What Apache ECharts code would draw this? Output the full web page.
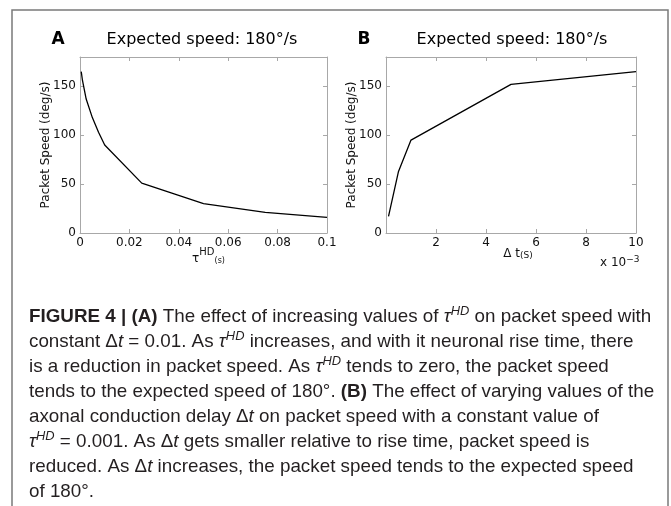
<!DOCTYPE html>
<html>
<head>
<meta charset="utf-8">
<script src="https://cdn.jsdelivr.net/npm/echarts@6/dist/echarts.min.js"></script>
<style>
  html, body { margin: 0; padding: 0; background: #fff; }
  #main { width: 671px; height: 506px; }
</style>
</head>
<body>
<div id="main"></div>
<script>
// panel A: tau^HD (s) against packet speed (deg/s)
let tauHD  = [0.0005, 0.001, 0.0025, 0.005, 0.0075, 0.01, 0.025, 0.05, 0.075, 0.1];
let speedA = [165, 156, 137, 118, 103, 90, 51, 30, 21, 16];
// panel B: delta t (in units of 10^-3 s) against packet speed
let deltaT = [0.1, 0.5, 1, 5, 10];
let speedB = [17, 63, 95, 152, 165];

let titleText = 'Expected speed: 180°/s';
let captionLines = [
  '{b|FIGURE 4 | (A)} The effect of increasing values of {i|τ}{sup|HD} on packet speed with',
  'constant Δ{i|t} = 0.01. As {i|τ}{sup|HD} increases, and with it neuronal rise time, there',
  'is a reduction in packet speed. As {i|τ}{sup|HD} tends to zero, the packet speed',
  'tends to the expected speed of 180°. {b|(B)} The effect of varying values of the',
  'axonal conduction delay Δ{i|t} on packet speed with a constant value of',
  '{i|τ}{sup|HD} = 0.001. As Δ{i|t} gets smaller relative to rise time, packet speed is',
  'reduced. As Δ{i|t} increases, the packet speed tends to the expected speed',
  'of 180°.'
];

let chart = echarts.init(document.getElementById('main'));
let F = 'DejaVu Sans';
let CF = 'Liberation Sans';
let spine = '#a8a8a8';
let ink = '#231f20';

function pairs(xs, ys){
  return xs.map(function(x, i){ return [x, ys[i]]; });
}

function axis(extra){
  return Object.assign({
    type: 'value',
    axisLine: { show: true, onZero: false, lineStyle: { color: spine, width: 1 } },
    axisTick: { show: true, inside: true, length: 4, lineStyle: { color: spine } },
    splitLine: { show: false },
    axisLabel: { show: false }
  }, extra);
}

function tickLabel(fmt){
  return { show: true, color: '#111', fontSize: 12, fontFamily: F, margin: 4, formatter: fmt };
}

let yName = {
  name: 'Packet Speed (deg/s)',
  nameLocation: 'middle',
  nameGap: 28,
  nameMoveOverlap: false,
  nameTextStyle: { fontFamily: F, fontSize: 12, color: '#111' }
};
let yFmt = function(v){ return v > 150 ? '' : v; };

let capRich = {
  b:   { fontFamily: CF, fontSize: 19, fontWeight: 'bold', fill: ink, lineHeight: 24 },
  i:   { fontFamily: CF, fontSize: 19, fontStyle: 'italic', fill: ink, lineHeight: 24 },
  sup: { fontFamily: CF, fontSize: 13, fontStyle: 'italic', fill: ink, lineHeight: 11, verticalAlign: 'top' }
};

let graphics = [
  { type: 'polyline', shape: { points: [[12, 506], [12, 10], [668, 10], [668, 506]] },
    style: { stroke: '#7a7a7a', lineWidth: 1.5, fill: null } },
  { type: 'text', x: 58, y: 40, style: { text: 'A', fontFamily: F, fontWeight: 'bold', fontSize: 17, fill: '#000', align: 'center', verticalAlign: 'middle' } },
  { type: 'text', x: 202, y: 40, style: { text: titleText, fontFamily: F, fontSize: 16, fill: '#000', align: 'center', verticalAlign: 'middle' } },
  { type: 'text', x: 364, y: 40, style: { text: 'B', fontFamily: F, fontWeight: 'bold', fontSize: 17, fill: '#000', align: 'center', verticalAlign: 'middle' } },
  { type: 'text', x: 512, y: 40, style: { text: titleText, fontFamily: F, fontSize: 16, fill: '#000', align: 'center', verticalAlign: 'middle' } },
  { type: 'text', x: 600, y: 263, style: {
      text: 'x 10{sup|−3}', fontFamily: F, fontSize: 12, fill: '#111', lineHeight: 16, verticalAlign: 'middle',
      rich: { sup: { fontFamily: F, fontSize: 9, fill: '#111', lineHeight: 8, verticalAlign: 'top' } } } }
];

// caption, one text per line, squeezed a little to the printed width
captionLines.forEach(function(t, i){
  graphics.push({
    type: 'text', x: 29, y: 317 + i * 25, scaleX: 0.99,
    style: { text: t, rich: capRich, fontFamily: CF, fontSize: 19, fill: ink, lineHeight: 24, align: 'left', verticalAlign: 'middle' }
  });
});

let option = {
  animation: false,
  textStyle: { fontFamily: F },
  grid: [
    { left: 80, top: 57, width: 247, height: 176 },
    { left: 386, top: 57, width: 250, height: 176 }
  ],
  xAxis: [
    axis({ gridIndex: 0, position: 'bottom', min: 0, max: 0.1, interval: 0.02,
      axisLabel: tickLabel(null),
      name: '{t|τ}{s|HD}{u|(s)}', nameLocation: 'middle', nameGap: 14, nameMoveOverlap: false,
      nameTextStyle: { padding: [0, 0, 0, 10], rich: {
        t: { fontFamily: F, fontSize: 12, color: '#111', lineHeight: 18, verticalAlign: 'bottom' },
        s: { fontFamily: F, fontSize: 10, color: '#111', lineHeight: 18, verticalAlign: 'top' },
        u: { fontFamily: F, fontSize: 8, color: '#111', lineHeight: 18, verticalAlign: 'bottom' }
      } } }),
    axis({ gridIndex: 0, position: 'top', min: 0, max: 0.1, interval: 0.02 }),
    axis({ gridIndex: 1, position: 'bottom', min: 0, max: 10, interval: 2,
      axisLabel: tickLabel(function(v){ return v === 0 ? '' : v; }),
      name: 'Δ t{u|(S)}', nameLocation: 'middle', nameGap: 15, nameMoveOverlap: false,
      nameTextStyle: { fontFamily: F, fontSize: 12, color: '#111', padding: [0, 0, 0, 14],
        rich: { u: { fontFamily: F, fontSize: 9, color: '#111', verticalAlign: 'bottom' } } } }),
    axis({ gridIndex: 1, position: 'top', min: 0, max: 10, interval: 2 })
  ],
  yAxis: [
    axis(Object.assign({ gridIndex: 0, position: 'left', min: 0, max: 180, interval: 50, axisLabel: tickLabel(yFmt) }, yName)),
    axis({ gridIndex: 0, position: 'right', min: 0, max: 180, interval: 50 }),
    axis(Object.assign({ gridIndex: 1, position: 'left', min: 0, max: 180, interval: 50, axisLabel: tickLabel(yFmt) }, yName)),
    axis({ gridIndex: 1, position: 'right', min: 0, max: 180, interval: 50 })
  ],
  series: [
    { type: 'line', xAxisIndex: 0, yAxisIndex: 0, data: pairs(tauHD, speedA), showSymbol: false,
      lineStyle: { color: '#000', width: 1.3 } },
    { type: 'line', xAxisIndex: 2, yAxisIndex: 2, data: pairs(deltaT, speedB), showSymbol: false,
      lineStyle: { color: '#000', width: 1.3 } }
  ],
  graphic: graphics
};

chart.setOption(option);
</script>
</body>
</html>
